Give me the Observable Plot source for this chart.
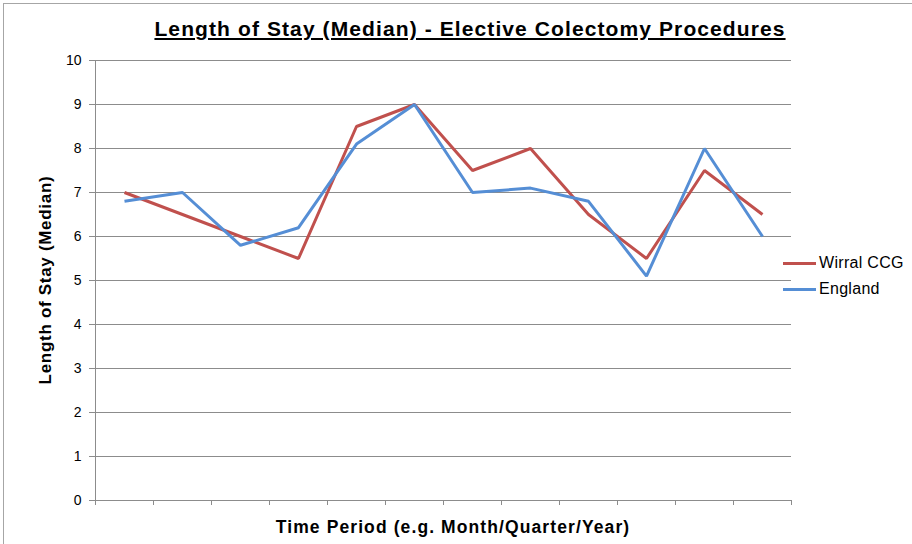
<!DOCTYPE html>
<html>
<head>
<meta charset="utf-8">
<script src="https://cdn.jsdelivr.net/npm/d3@7"></script>
<script src="https://cdn.jsdelivr.net/npm/@observablehq/plot@0.6"></script>
<style>
  html, body { margin: 0; padding: 0; background: #fff; }
  #wrap { position: relative; width: 912px; height: 544px; overflow: hidden; font-family: "Liberation Sans", Arial, sans-serif; }
  #frame { position: absolute; left: 3px; top: 3px; width: 920px; height: 560px; border-top: 1px solid #a6a6a6; border-left: 1px solid #a6a6a6; pointer-events: none; }
  #title { position: absolute; top: 17px; left: 95px; width: 750px; text-align: center; font-weight: bold; font-size: 21px; letter-spacing: 1.1px; text-decoration: underline; color: #000; }
  #ylab { position: absolute; left: 46px; top: 280px; transform: translate(-50%, -50%) rotate(-90deg); white-space: nowrap; font-weight: bold; font-size: 17px; letter-spacing: 0.7px; color: #000; }
  #xlab { position: absolute; top: 517px; left: 95px; width: 716px; text-align: center; font-weight: bold; font-size: 17.5px; letter-spacing: 1.1px; color: #000; }
  #legend { position: absolute; left: 783px; top: 250px; font-size: 16px; letter-spacing: 0.3px; color: #000; }
  .item { display: flex; align-items: center; height: 26px; }
  .swatch { width: 33px; height: 3px; margin-right: 3px; }
  svg { position: absolute; left: 0; top: 0; }
</style>
</head>
<body>
<div id="wrap">
  <div id="title">Length of Stay (Median) - Elective Colectomy Procedures</div>
  <div id="ylab">Length of Stay (Median)</div>
  <div id="xlab">Time Period (e.g. Month/Quarter/Year)</div>
  <div id="legend"></div>
  <div id="frame"></div>
</div>
<script>
const periods = [1, 2, 3, 4, 5, 6, 7, 8, 9, 10, 11, 12];
const wirral = [7, 6.5, 6, 5.5, 8.5, 9, 7.5, 8, 6.5, 5.5, 7.5, 6.5];
const england = [6.8, 7, 5.8, 6.2, 8.1, 9, 7, 7.1, 6.8, 5.1, 8, 6];
const yTicks = [0, 1, 2, 3, 4, 5, 6, 7, 8, 9, 10];
const seriesNames = ["Wirral CCG", "England"];
const seriesColors = ["#c0504d", "#558ed5"];

const rows = [];
periods.forEach((p, i) => {
  rows.push({period: p, value: wirral[i], series: seriesNames[0]});
});
periods.forEach((p, i) => {
  rows.push({period: p, value: england[i], series: seriesNames[1]});
});
const boundaries = periods.map(p => p - 0.5).concat([periods[periods.length - 1] + 0.5]);

const chart = Plot.plot({
  width: 912,
  height: 544,
  marginTop: 60,
  marginBottom: 44,
  marginLeft: 95,
  marginRight: 121,
  style: {fontFamily: "Liberation Sans, Arial, sans-serif", fontSize: "14px", color: "#000", background: "transparent"},
  x: {type: "linear", domain: [boundaries[0], boundaries[boundaries.length - 1]]},
  y: {domain: [0, 10]},
  color: {domain: seriesNames, range: seriesColors},
  marks: [
    Plot.gridY(yTicks, {stroke: "#8c8c8c", strokeOpacity: 1, strokeWidth: 1}),
    Plot.frame({anchor: "left", stroke: "#8c8c8c"}),
    Plot.frame({anchor: "bottom", stroke: "#8c8c8c"}),
    Plot.axisY(yTicks, {tickSize: 6, tickPadding: 8, stroke: "#8c8c8c", fill: "#000", label: null, fontSize: 14}),
    Plot.axisX(boundaries, {tickSize: 5, tickFormat: () => "", stroke: "#8c8c8c", label: null}),
    Plot.line(rows, {x: "period", y: "value", z: "series", stroke: "series", strokeWidth: 3, strokeLinejoin: "miter", strokeLinecap: "butt"})
  ]
});
document.getElementById("wrap").prepend(chart);

const legend = document.getElementById("legend");
seriesNames.forEach((name, i) => {
  const item = document.createElement("div");
  item.className = "item";
  const sw = document.createElement("div");
  sw.className = "swatch";
  sw.style.background = seriesColors[i];
  const t = document.createElement("span");
  t.textContent = name;
  item.appendChild(sw);
  item.appendChild(t);
  legend.appendChild(item);
});
</script>
</body>
</html>
